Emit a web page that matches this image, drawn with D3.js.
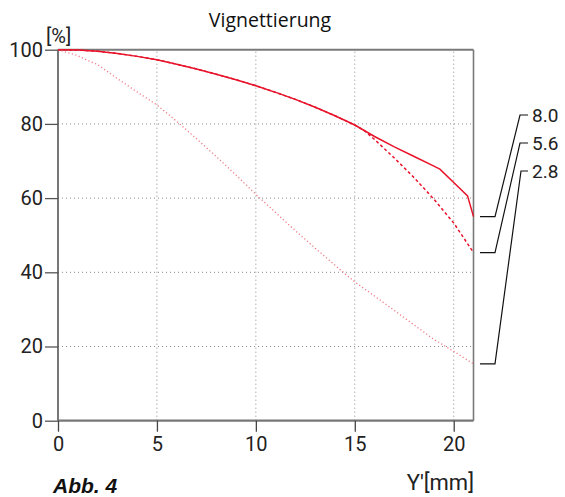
<!DOCTYPE html>
<html>
<head>
<meta charset="utf-8">
<script src="https://cdn.jsdelivr.net/npm/d3@7"></script>
<style>
  html, body { margin: 0; padding: 0; background: #fff; }
  svg { display: block; }
</style>
</head>
<body>
<svg id="chart" width="565" height="497"></svg>
<script>
// ---- Data ----
const xTicks = [0, 5, 10, 15, 20];
const yTicks = [0, 20, 40, 60, 80, 100];

const x80 = [0, 1, 2, 3, 4, 5, 6, 7, 8, 9, 10, 11, 12, 13, 14, 15, 16, 17, 18, 19, 19.3, 20, 20.7, 21];
const v80 = [100, 99.9, 99.6, 99.0, 98.2, 97.3, 96.1, 94.8, 93.4, 91.9, 90.3, 88.5, 86.6, 84.5, 82.2, 79.7, 76.6, 73.8, 71.2, 68.6, 67.8, 64.2, 60.6, 55.0];

const x56 = [0, 1, 2, 3, 4, 5, 6, 7, 8, 9, 10, 11, 12, 13, 14, 15, 15.5, 16, 17, 18, 19, 20, 21];
const v56 = [100, 99.9, 99.6, 99.0, 98.2, 97.3, 96.1, 94.8, 93.4, 91.9, 90.3, 88.5, 86.6, 84.5, 82.2, 79.7, 78.1, 75.8, 70.8, 65.5, 59.7, 53.3, 45.3];

const x28 = [0, 0.5, 1, 1.5, 2, 3, 4, 5, 6, 7, 8, 9, 10, 11, 12, 13, 14, 15, 16, 17, 18, 19, 20, 21];
const v28 = [100, 99.2, 98.4, 97.1, 96.0, 92.2, 88.6, 85.1, 80.7, 76.0, 71.2, 66.2, 61.0, 56.1, 51.2, 46.5, 41.9, 37.4, 33.6, 29.7, 25.8, 21.9, 18.7, 15.3];

const seriesNames = ["8.0", "5.6", "2.8"];

(function () {
  const svg = d3.select("#chart");
  const mLeft = 58, mRight = 473.5, mTop = 49.7, mBottom = 420.7;
  const labelY = [115, 143, 171];

  const x = d3.scaleLinear().domain([0, 21]).range([mLeft, mRight]);
  const y = d3.scaleLinear().domain([0, 100]).range([mBottom, mTop]);

  const tickFont = "Roboto, 'Liberation Sans', Arial, sans-serif";

  // Grid (dotted)
  const grid = svg.append("g");
  grid.selectAll("line.vx").data(xTicks.filter(d => d > 0)).join("line")
    .attr("x1", d => x(d)).attr("x2", d => x(d))
    .attr("y1", y(0)).attr("y2", y(100))
    .attr("stroke", "#8a8a8a").attr("stroke-width", 1)
    .attr("stroke-dasharray", "1,3");
  grid.selectAll("line.hy").data(yTicks.filter(d => d > 0 && d < 100)).join("line")
    .attr("x1", x(0)).attr("x2", x(21))
    .attr("y1", d => y(d)).attr("y2", d => y(d))
    .attr("stroke", "#8a8a8a").attr("stroke-width", 1)
    .attr("stroke-dasharray", "1,3");

  // Frame: top and right
  svg.append("line").attr("x1", x(0)).attr("x2", x(21)).attr("y1", y(100)).attr("y2", y(100))
    .attr("stroke", "#7a7a7a").attr("stroke-width", 2);
  svg.append("line").attr("x1", x(21)).attr("x2", x(21)).attr("y1", y(100)).attr("y2", y(0))
    .attr("stroke", "#7a7a7a").attr("stroke-width", 1.6);

  // Axes
  const yAxis = svg.append("g").attr("transform", `translate(${mLeft},0)`)
    .call(d3.axisLeft(y).tickValues(yTicks).tickSize(13).tickPadding(2).tickFormat(d3.format("d")));
  yAxis.select(".domain").attr("stroke", "#555").attr("stroke-width", 1.6).attr("d", `M0,${mBottom}V${mTop}`);
  yAxis.selectAll(".tick line").attr("stroke", "#555").attr("stroke-width", 1.3);
  yAxis.selectAll(".tick text").attr("font-family", tickFont).attr("font-size", 20).attr("fill", "#222");

  const xAxis = svg.append("g").attr("transform", `translate(0,${mBottom})`)
    .call(d3.axisBottom(x).tickValues(xTicks).tickSize(11).tickPadding(5).tickFormat(d3.format("d")));
  xAxis.select(".domain").attr("stroke", "#777").attr("stroke-width", 2.2).attr("d", `M${mLeft},0H${mRight}`);
  xAxis.selectAll(".tick line").attr("stroke", "#444").attr("stroke-width", 1.3);
  xAxis.selectAll(".tick text").attr("font-family", tickFont).attr("font-size", 20).attr("fill", "#222");

  // Curves
  const line = d3.line().x(d => x(d[0])).y(d => y(d[1]));
  const zip = (xs, vs) => xs.map((d, i) => [d, vs[i]]);

  svg.append("path").datum(zip(x28, v28)).attr("d", line)
    .attr("fill", "none").attr("stroke", "#f07a86").attr("stroke-width", 1.3)
    .attr("stroke-dasharray", "1.2,2.4");
  svg.append("path").datum(zip(x56, v56)).attr("d", line)
    .attr("fill", "none").attr("stroke", "#e8132b").attr("stroke-width", 1.5)
    .attr("stroke-dasharray", "3,2.5");
  svg.append("path").datum(zip(x80, v80)).attr("d", line)
    .attr("fill", "none").attr("stroke", "#e8132b").attr("stroke-width", 1.5);

  // Leader lines and labels
  const ends = [v80[v80.length - 1], v56[v56.length - 1], v28[v28.length - 1]];
  ends.forEach((v, i) => {
    const ye = y(v);
    const ly = labelY[i];
    const topX = 520 + (i === 2 ? 1 : 0);
    svg.append("path")
      .attr("d", `M480,${ye}H495L${topX},${ly}H528`)
      .attr("fill", "none").attr("stroke", "#111").attr("stroke-width", 1.2);
    svg.append("text").attr("x", 532).attr("y", ly).attr("dy", "0.35em")
      .attr("font-family", tickFont).attr("font-size", 19).attr("fill", "#222")
      .text(seriesNames[i]);
  });

  // Title and axis labels
  svg.append("text").attr("x", 270).attr("y", 27).attr("text-anchor", "middle")
    .attr("font-family", "'Open Sans', 'Noto Sans', sans-serif").attr("font-size", 19.5).attr("fill", "#111")
    .text("Vignettierung");
  svg.append("text").attr("x", 46).attr("y", 43)
    .attr("font-family", tickFont).attr("font-size", 20).attr("fill", "#222")
    .text("[%]");
  svg.append("text").attr("x", 474).attr("y", 490).attr("text-anchor", "end")
    .attr("font-family", tickFont).attr("font-size", 22).attr("fill", "#222")
    .text("Y'[mm]");
  svg.append("text").attr("x", 53).attr("y", 493)
    .attr("font-family", "'Liberation Sans', Arial, sans-serif").attr("font-size", 21)
    .attr("font-weight", "bold").attr("font-style", "italic").attr("fill", "#111")
    .text("Abb. 4");
})();
</script>
</body>
</html>
